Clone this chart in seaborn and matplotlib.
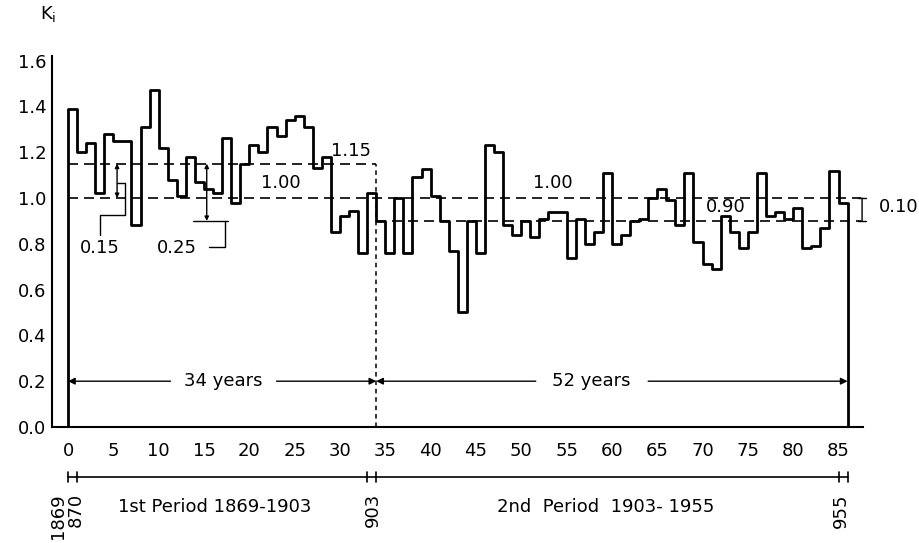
import numpy as np
import pandas as pd
import matplotlib
matplotlib.use("Agg")
import matplotlib.pyplot as plt
import seaborn as sns

# Yearly coefficient K_i, year index 0 = 1869
years = np.arange(86)
k_values = [1.39, 1.20, 1.24, 1.02, 1.28, 1.25, 1.25, 0.88, 1.31, 1.47,
            1.22, 1.08, 1.01, 1.18, 1.07, 1.04, 1.02, 1.26, 0.98, 1.15,
            1.23, 1.20, 1.31, 1.27, 1.34, 1.36, 1.31, 1.13, 1.18, 0.85,
            0.92, 0.945, 0.76, 1.02, 0.90, 0.76, 1.00, 0.76, 1.09, 1.125,
            1.01, 0.90, 0.77, 0.50, 0.90, 0.76, 1.23, 1.20, 0.88, 0.84,
            0.90, 0.83, 0.91, 0.94, 0.94, 0.74, 0.91, 0.80, 0.85, 1.11,
            0.80, 0.84, 0.90, 0.91, 1.00, 1.04, 0.99, 0.88, 1.11, 0.81,
            0.71, 0.69, 0.92, 0.85, 0.78, 0.85, 1.11, 0.92, 0.94, 0.91,
            0.955, 0.78, 0.79, 0.87, 1.12, 0.98]

split_year = 34          # end of 1st period (1903)
end_year = 86            # end of 2nd period (1955)
mean_first = 1.15
mean_second = 0.90
mean_all = 1.00
diff_first = 0.15
diff_periods = 0.25
diff_second = 0.10
period_years = [34, 52]

x_ticks = list(range(0, 90, 5))
y_ticks = [0.0, 0.2, 0.4, 0.6, 0.8, 1.0, 1.2, 1.4, 1.6]

sns.set_theme(style="white")
plt.rcParams["font.family"] = ["DejaVu Sans"]

fig = plt.figure(figsize=(9.2, 5.43), dpi=100)
ax = fig.add_axes([52 / 920, 1 - 427 / 543, 811 / 920, 371 / 543])

df = pd.DataFrame({"year": years + 0.5, "K": k_values})
sns.histplot(data=df, x="year", weights="K", binwidth=1, binrange=(0, end_year),
             element="step", fill=False, color="black", linewidth=2.0, ax=ax)
# close the outline down to the axis at both ends
ax.vlines([0, end_year], 0, [k_values[0], k_values[-1]], colors="black", lw=2.0)

ax.set_xlim(-1.77, 87.7)
ax.set_ylim(0, 1.62)
ax.set_xlabel("")
ax.set_ylabel("")
ax.set_xticks(x_ticks)
ax.set_xticklabels([str(t) for t in x_ticks])
ax.set_yticks(y_ticks)
ax.set_yticklabels([f"{t:.1f}" for t in y_ticks])
ax.tick_params(direction="in", length=5, width=1.2, labelsize=13, colors="black")
ax.tick_params(axis="x", pad=11)
ax.tick_params(axis="y", pad=4)
for side in ("top", "right"):
    ax.spines[side].set_visible(False)
for side in ("left", "bottom"):
    ax.spines[side].set_linewidth(1.5)
    ax.spines[side].set_color("black")

dash = (0, (6, 3.6))
ax.hlines(mean_first, 0, split_year, colors="black", lw=1.2, linestyles=[dash])
ax.hlines(mean_all, 0, 87.5, colors="black", lw=1.2, linestyles=[dash])
ax.hlines(mean_second, split_year, 87.5, colors="black", lw=1.2, linestyles=[dash])
ax.vlines(split_year, 0, mean_first, colors="black", lw=1.1, linestyles=[(0, (3, 2.5))])

txt = dict(fontsize=13, color="black", ha="center", va="center")
ax.text(31.2, 1.205, f"{mean_first:.2f}", **txt)
ax.text(23.5, 1.066, f"{mean_all:.2f}", **txt)
ax.text(53.5, 1.066, f"{mean_all:.2f}", **txt)
ax.text(72.6, 0.961, f"{mean_second:.2f}", **txt)
ax.text(89.4, 0.961, f"{diff_second:.2f}", fontsize=13, color="black",
        ha="left", va="center", clip_on=False)

# dimension marks
dim = dict(color="black", lw=1.0, shrinkA=0, shrinkB=0)
ax.annotate("", xy=(5.41, mean_first), xytext=(5.41, mean_all),
            arrowprops=dict(arrowstyle="<|-|>", mutation_scale=6, **dim))
ax.annotate("", xy=(15.3, mean_first), xytext=(15.3, mean_second),
            arrowprops=dict(arrowstyle="<|-|>", mutation_scale=6, **dim))
ax.annotate("", xy=(87.6, mean_all), xytext=(87.6, mean_second),
            arrowprops=dict(arrowstyle="|-|, widthA=0.25, widthB=0.25", **dim),
            annotation_clip=False)

# leaders to the difference labels
ax.plot([5.41, 6.29, 6.29, 3.53, 3.53], [1.066, 1.066, 0.926, 0.926, 0.838],
        color="black", lw=1.0)
ax.plot([13.8, 17.6], [mean_second, mean_second], color="black", lw=1.0)
ax.plot([17.3, 17.3, 15.6], [mean_second, 0.786, 0.786], color="black", lw=1.0)
ax.text(3.53, 0.782, f"{diff_first:.2f}", **txt)
ax.text(12.0, 0.78, f"{diff_periods:.2f}", **txt)

# period length arrows
arr = dict(arrowstyle="-|>", color="black", lw=1.0, shrinkA=0, shrinkB=0, mutation_scale=10)
ax.annotate("", xy=(0, 0.2), xytext=(11.3, 0.2), arrowprops=arr)
ax.annotate("", xy=(split_year, 0.2), xytext=(23.0, 0.2), arrowprops=arr)
ax.text(17.1, 0.2, f"{period_years[0]} years", **txt)
ax.annotate("", xy=(split_year, 0.2), xytext=(51.6, 0.2), arrowprops=arr)
ax.annotate("", xy=(end_year, 0.2), xytext=(64.0, 0.2), arrowprops=arr)
ax.text(57.7, 0.2, f"{period_years[1]} years", **txt)

# calendar scale under the axis
tr = ax.get_xaxis_transform()
ax.plot([0, end_year], [-0.135, -0.135], color="black", lw=1.2, transform=tr, clip_on=False)
for xt in (0, 1, split_year - 1, split_year, end_year - 1, end_year):
    ax.plot([xt, xt], [-0.121, -0.148], color="black", lw=1.2, transform=tr, clip_on=False)
for xt, lab in ((-1.16, "1869"), (0.8, "870"), (33.6, "903"), (85.3, "955")):
    ax.text(xt, -0.178, lab, rotation=90, ha="center", va="top", fontsize=13,
            color="black", transform=tr, clip_on=False)
ax.text(16.2, -0.216, "1st Period 1869-1903", fontsize=13, color="black",
        ha="center", va="center", transform=tr, clip_on=False)
ax.text(59.3, -0.216, "2nd  Period  1903- 1955", fontsize=13, color="black",
        ha="center", va="center", transform=tr, clip_on=False)

ax.text(-0.005, 1.113, r"$\mathregular{K_i}$", fontsize=13, color="black",
        ha="center", va="center", transform=ax.transAxes)

fig.savefig("out.png", dpi=100)
